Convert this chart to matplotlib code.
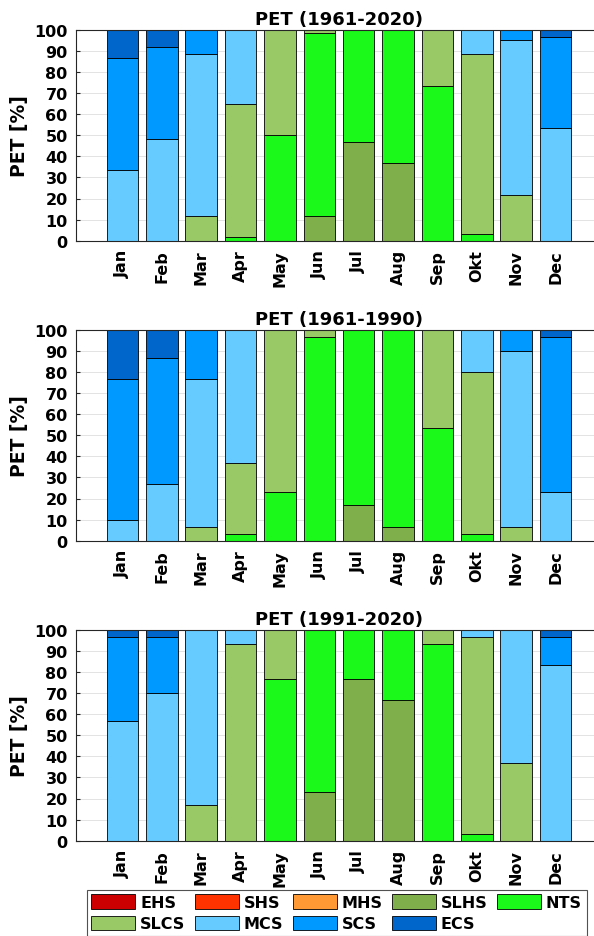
import numpy as np
import matplotlib
matplotlib.use("Agg")
import matplotlib.pyplot as plt

# ---- data ----
months = ["Jan", "Feb", "Mar", "Apr", "May", "Jun", "Jul", "Aug", "Sep", "Okt", "Nov", "Dec"]
classes = ["EHS", "SHS", "MHS", "SLHS", "NTS", "SLCS", "MCS", "SCS", "ECS"]
colors = ["#CC0000", "#FF3300", "#FF9933", "#7FAF4B", "#1AF91A",
          "#99C966", "#66CCFF", "#0099FF", "#0066CC"]
titles = ["PET (1961-2020)", "PET (1961-1990)", "PET (1991-2020)"]
yticks = list(range(0, 101, 10))

# share of each class per month [%], classes not listed are zero
p_1961_2020 = {
    "SLHS": [0, 0, 0, 0, 0, 11.7, 46.7, 36.7, 0, 0, 0, 0],
    "NTS":  [0, 0, 0, 1.7, 50, 86.7, 53.3, 63.3, 73.3, 3.3, 0, 0],
    "SLCS": [0, 0, 11.7, 63.3, 50, 1.7, 0, 0, 26.7, 85, 21.7, 0],
    "MCS":  [33.3, 48.3, 76.7, 35, 0, 0, 0, 0, 0, 11.7, 73.3, 53.3],
    "SCS":  [53.3, 43.3, 11.7, 0, 0, 0, 0, 0, 0, 0, 5, 43.3],
    "ECS":  [13.3, 8.3, 0, 0, 0, 0, 0, 0, 0, 0, 0, 3.3],
}
p_1961_1990 = {
    "SLHS": [0, 0, 0, 0, 0, 0, 16.7, 6.7, 0, 0, 0, 0],
    "NTS":  [0, 0, 0, 3.3, 23.3, 96.7, 83.3, 93.3, 53.3, 3.3, 0, 0],
    "SLCS": [0, 0, 6.7, 33.3, 76.7, 3.3, 0, 0, 46.7, 76.7, 6.7, 0],
    "MCS":  [10, 26.7, 70, 63.3, 0, 0, 0, 0, 0, 20, 83.3, 23.3],
    "SCS":  [66.7, 60, 23.3, 0, 0, 0, 0, 0, 0, 0, 10, 73.3],
    "ECS":  [23.3, 13.3, 0, 0, 0, 0, 0, 0, 0, 0, 0, 3.3],
}
p_1991_2020 = {
    "SLHS": [0, 0, 0, 0, 0, 23.3, 76.7, 66.7, 0, 0, 0, 0],
    "NTS":  [0, 0, 0, 0, 76.7, 76.7, 23.3, 33.3, 93.3, 3.3, 0, 0],
    "SLCS": [0, 0, 16.7, 93.3, 23.3, 0, 0, 0, 6.7, 93.3, 36.7, 0],
    "MCS":  [56.7, 70, 83.3, 6.7, 0, 0, 0, 0, 0, 3.3, 63.3, 83.3],
    "SCS":  [40, 26.7, 0, 0, 0, 0, 0, 0, 0, 0, 0, 13.3],
    "ECS":  [3.3, 3.3, 0, 0, 0, 0, 0, 0, 0, 0, 0, 3.3],
}
periods = [p_1961_2020, p_1961_1990, p_1991_2020]

# ---- plot ----
W, H = 594, 937
fig = plt.figure(figsize=(W / 100, H / 100), dpi=100)
plt.rcParams["font.family"] = "DejaVu Sans"
plt.rcParams["font.weight"] = "bold"

x = np.arange(1, 13)
left, right, ax_h = 76, 602, 211
tops = [30.7, 330.7, 630.7]

handles = {}
for top, title, data in zip(tops, titles, periods):
    ax = fig.add_axes([left / W, 1 - (top + ax_h) / H, (right - left) / W, ax_h / H])
    bottom = np.zeros(12)
    for cls, col in zip(classes, colors):
        vals = np.array(data.get(cls, [0] * 12), dtype=float)
        b = ax.bar(x, vals, 0.8, bottom=bottom, color=col, edgecolor="black",
                   linewidth=0.6, label=cls, zorder=2)
        handles[cls] = b
        bottom += vals
    ax.set_xlim(-0.18, 13.18)
    ax.set_ylim(0, 100)
    ax.set_yticks(yticks)
    ax.set_yticklabels([str(v) for v in yticks], fontsize=11.5, fontweight="bold")
    ax.set_xticks(x)
    ax.set_xticklabels(months, rotation=90, fontsize=11.5, fontweight="bold")
    ax.tick_params(axis="both", direction="in", length=3, color="#262626",
                   top=True, pad=6)
    ax.grid(axis="y", color="#e3e3e3", linewidth=0.7, zorder=0)
    ax.set_axisbelow(True)
    for s in ax.spines.values():
        s.set_color("#262626")
        s.set_linewidth(0.8)
    ax.set_title(title, fontsize=13, fontweight="bold", pad=4)
    ax.set_ylabel("PET [%]", fontsize=13.5, fontweight="bold", labelpad=4)

# legend in MATLAB row order -> reorder for matplotlib column filling
order = ["EHS", "SLCS", "SHS", "MCS", "MHS", "SCS", "SLHS", "ECS", "NTS"]
leg = fig.legend([handles[c] for c in order], order, loc="upper left",
                 bbox_to_anchor=(86.7 / W, 1 - 890.7 / H), ncol=5,
                 fontsize=11.5, frameon=True, fancybox=False,
                 handlelength=2.75, handleheight=1.0, handletextpad=0.3,
                 columnspacing=0.6, labelspacing=0.35, borderpad=0.3,
                 borderaxespad=0)
leg.get_frame().set_edgecolor("#262626")
leg.get_frame().set_linewidth(0.8)
for t in leg.get_texts():
    t.set_fontweight("bold")

plt.savefig("out.png", dpi=100)
